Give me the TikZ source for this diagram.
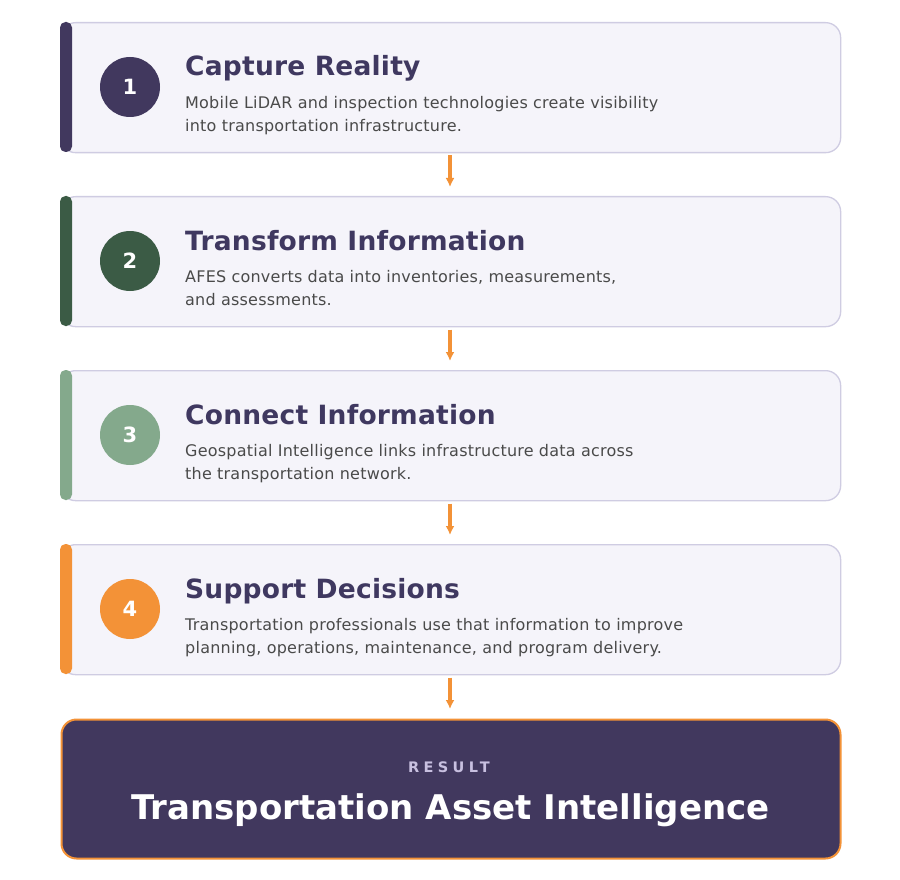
\documentclass[tikz,border=0pt]{standalone}
\usepackage{fontspec}
\setmainfont{DejaVu Sans}
\newfontfamily\spacedfont[LetterSpace=30]{DejaVu Sans}
\newfontfamily\bodyfont[LetterSpace=1.4]{DejaVu Sans}
\newfontfamily\titlefont[LetterSpace=0.8]{DejaVu Sans}
\usetikzlibrary{arrows.meta}
\definecolor{navy}{HTML}{41385E}
\definecolor{darkgreen}{HTML}{3B5B45}
\definecolor{sage}{HTML}{84A98C}
\definecolor{orangeacc}{HTML}{F39237}
\definecolor{boxfill}{HTML}{F5F4FA}
\definecolor{boxline}{HTML}{CFCCE2}
\definecolor{titlecol}{HTML}{3F3860}
\definecolor{bodycol}{HTML}{4A4A4A}
\definecolor{resultlbl}{HTML}{C8C0E0}
\tikzset{
  stepcard/.style={draw=boxline, fill=boxfill, line width=1.3pt, rounded corners=15pt, minimum width=780pt, minimum height=130pt, anchor=north west, inner sep=0pt},
  numcirc/.style={circle, minimum size=60pt, inner sep=0pt, text=white, font=\fontsize{21}{24}\selectfont\bfseries},
  steptitle/.style={anchor=base west, inner sep=0pt, text=titlecol, font=\titlefont\fontsize{26.5}{30}\selectfont\bfseries},
  stepbody/.style={anchor=base west, inner sep=0pt, text=bodycol, font=\bodyfont\fontsize{16}{19}\selectfont},
  flowarrow/.style={draw=orangeacc, line width=3.2pt, -{Latex[length=9pt,width=9pt]}},
}
\begin{document}
\begin{tikzpicture}[x=1pt,y=-1pt]
\useasboundingbox (0,0) rectangle (900,880);
\fill[white] (0,0) rectangle (900,880);
% cards
\foreach \i/\y/\c in {1/22/navy,2/196/darkgreen,3/370/sage,4/544/orangeacc}{
  \node[stepcard] (card\i) at (60,\y) {};
  \fill[\c, rounded corners=5.5pt] (60,\y) rectangle (72,\y+130);
  \node[numcirc, fill=\c] (num\i) at (130,\y+65) {\i};
}
\node[steptitle] (t1) at (185,76) {Capture Reality};
\node[stepbody] (b1a) at (185,108.5) {Mobile LiDAR and inspection technologies create visibility};
\node[stepbody] (b1b) at (185,131.5) {into transportation infrastructure.};
\node[steptitle] (t2) at (185,250) {Transform Information};
\node[stepbody] (b2a) at (185,282.5) {AFES converts data into inventories, measurements,};
\node[stepbody] (b2b) at (185,305.5) {and assessments.};
\node[steptitle] (t3) at (185,424) {Connect Information};
\node[stepbody] (b3a) at (185,456.5) {Geospatial Intelligence links infrastructure data across};
\node[stepbody] (b3b) at (185,479.5) {the transportation network.};
\node[steptitle] (t4) at (185,598) {Support Decisions};
\node[stepbody] (b4a) at (185,630.5) {Transportation professionals use that information to improve};
\node[stepbody] (b4b) at (185,653.5) {planning, operations, maintenance, and program delivery.};
% result
\node[draw=orangeacc, fill=navy, line width=2pt, rounded corners=15pt, minimum width=779pt, minimum height=139pt, anchor=north west, inner sep=0pt] (result) at (60.5,718.5) {};
\node[anchor=base, inner sep=0pt, text=resultlbl, font=\spacedfont\fontsize{14.5}{16}\selectfont\bfseries] (rlbl) at (449,772) {RESULT};
\node[anchor=base, inner sep=0pt, text=white, font=\fontsize{34}{38}\selectfont\bfseries] (rtitle) at (450.5,819) {Transportation Asset Intelligence};
% arrows
\coordinate (a1s) at (450,155.5); \coordinate (a1e) at (450,187);
\coordinate (a2s) at (450,329.5); \coordinate (a2e) at (450,361);
\coordinate (a3s) at (450,503.5); \coordinate (a3e) at (450,535);
\coordinate (a4s) at (450,677.5); \coordinate (a4e) at (450,709);
\draw[flowarrow] (a1s) -- (a1e);
\draw[flowarrow] (a2s) -- (a2e);
\draw[flowarrow] (a3s) -- (a3e);
\draw[flowarrow] (a4s) -- (a4e);
\end{tikzpicture}
\end{document}
